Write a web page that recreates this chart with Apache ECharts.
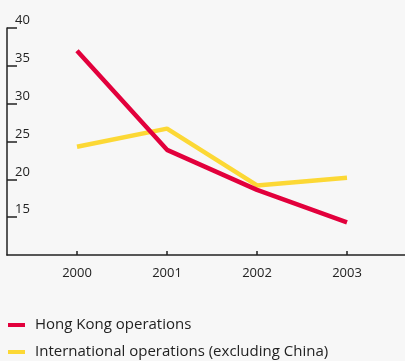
<!DOCTYPE html>
<html>
<head>
<meta charset="utf-8">
<script src="https://cdn.jsdelivr.net/npm/echarts@6/dist/echarts.min.js"></script>
<style>
html,body{margin:0;padding:0;background:#f7f7f7;}
#chart{width:405px;height:361px;}
</style>
</head>
<body>
<div id="chart"></div>
<script>
var years = [2000, 2001, 2002, 2003];
var hongKong = [37.0, 23.9, 18.6, 14.3];
var international = [24.3, 26.7, 19.2, 20.2];
var seriesNames = ['Hong Kong operations', 'International operations (excluding China)'];

var font = 'Open Sans';
var legendBase = {
  left: 8,
  icon: 'rect',
  itemWidth: 17,
  itemHeight: 4,
  padding: 0,
  textStyle: {fontSize: 15, color: '#222', fontFamily: font, lineHeight: 18, padding: [0, 0, 0, 5]}
};
function legendAt(top, name) {
  var l = Object.assign({}, legendBase);
  l.top = top;
  l.data = [name];
  return l;
}
var chart = echarts.init(document.getElementById('chart'), null, {renderer: 'canvas'});
chart.setOption({
  backgroundColor: '#f7f7f7',
  animation: false,
  grid: {left: 7, right: 0, top: 28, bottom: 106, containLabel: false},
  xAxis: {
    type: 'value',
    min: 1999.2222,
    max: 2003.6444,
    splitLine: {show: false},
    axisLine: {show: true, lineStyle: {color: '#222', width: 1.5}},
    axisTick: {show: true, inside: true, length: 4, customValues: years, lineStyle: {color: '#222', width: 1.5}},
    axisLabel: {customValues: years, margin: 12, fontSize: 13, color: '#222', fontFamily: font,
      formatter: function (v) { return String(Math.round(v)); }}
  },
  yAxis: {
    type: 'value',
    min: 10,
    max: 40,
    interval: 5,
    splitLine: {show: false},
    axisLine: {show: true, lineStyle: {color: '#222', width: 1.5}},
    axisTick: {show: true, inside: true, length: 10, lineStyle: {color: '#222', width: 1.5}},
    axisLabel: {inside: true, margin: 8, fontSize: 13, color: '#222', fontFamily: font,
      verticalAlign: 'bottom', showMinLabel: false, padding: [0, 0, 1, 0]}
  },
  legend: [legendAt(316, seriesNames[0]), legendAt(343, seriesNames[1])],
  series: [
    {
      name: seriesNames[0],
      type: 'line',
      z: 3,
      symbol: 'none',
      data: years.map(function (y, i) { return [y, hongKong[i]]; }),
      lineStyle: {color: '#e2003c', width: 4.5, cap: 'butt'},
      itemStyle: {color: '#e2003c'}
    },
    {
      name: seriesNames[1],
      type: 'line',
      z: 2,
      symbol: 'none',
      data: years.map(function (y, i) { return [y, international[i]]; }),
      lineStyle: {color: '#fcd835', width: 4.5, cap: 'butt'},
      itemStyle: {color: '#fcd835'}
    }
  ]
});
</script>
</body>
</html>
